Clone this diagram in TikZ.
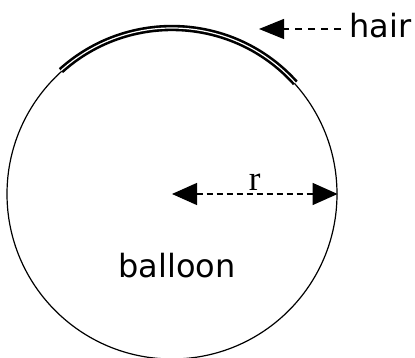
\documentclass[tikz,border=0pt]{standalone}
\usepackage{fontspec}
\setmainfont{Liberation Serif}
\newfontfamily\labelfont{DejaVu Sans}
\usetikzlibrary{arrows.meta}

\begin{document}
\begin{tikzpicture}[
      x=1pt,y=1pt,
      line width=1.2pt,
      font=\labelfont\fontsize{32}{36}\selectfont,
      ball/.style={draw,circle,minimum size=330pt,inner sep=0pt},
      lbl/.style={inner sep=0pt},
      hairline/.style={draw,double,double distance=1.2pt,line width=2.6pt},
      dim/.style={{Triangle[length=25pt,width=22pt]}-{Triangle[length=25pt,width=22pt]},dash pattern=on 6pt off 4pt},
      ptr/.style={-{Triangle[length=25pt,width=20pt]},dash pattern=on 7pt off 6pt}
    ]
    \useasboundingbox (0,0) rectangle (415,358);

    \node[ball] (balloon) at (172,164) {};
    \node[lbl,anchor=base] (name) at (177,80) {balloon};
    \node[lbl,anchor=base west] (hair) at (349,320) {hair};
    \coordinate (hairtip) at (259,329);

    % the hair lies on top of the balloon
    \draw[hairline] (balloon.center) ++(42:166) arc[start angle=42,end angle=132,radius=166];

    \draw[dim] (balloon.center) -- node[lbl,above=3pt,font=\rmfamily\fontsize{35}{40}\selectfont]{r} (balloon.east);
    \draw[ptr] ([xshift=-8pt]hair.west |- hairtip) -- (hairtip);
  \end{tikzpicture}
\end{document}
